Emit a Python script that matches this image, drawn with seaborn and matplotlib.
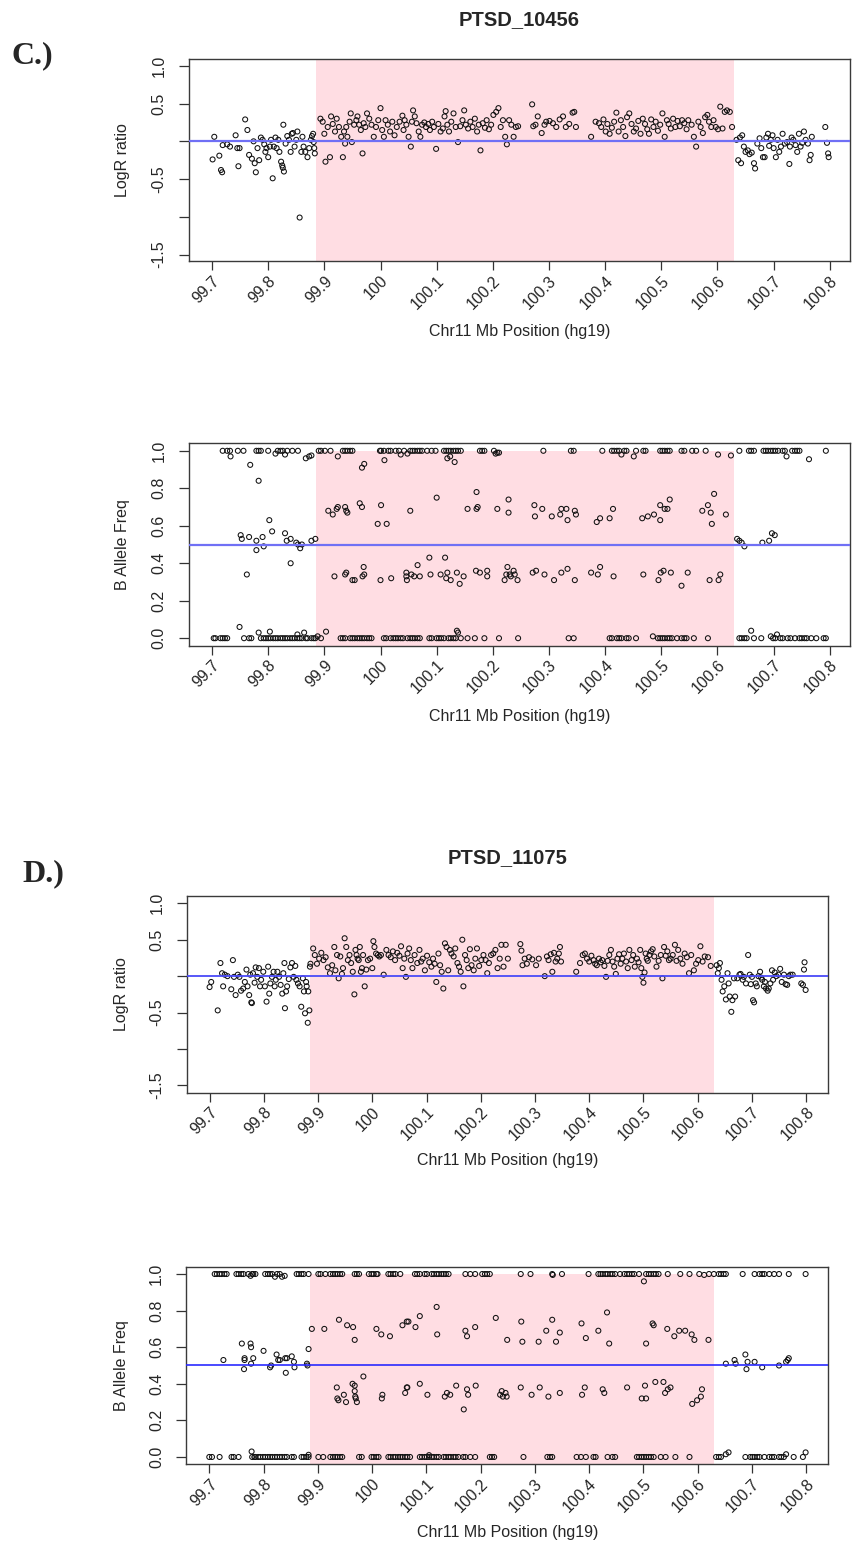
import numpy as np
import pandas as pd
import matplotlib
matplotlib.use("Agg")
import matplotlib.pyplot as plt
import matplotlib.transforms as mtransforms
from matplotlib.patches import Rectangle
import seaborn as sns

sns.set_theme(style="white")
plt.rcParams["font.family"] = ["Liberation Sans", "DejaVu Sans"]

# ------------------------------------------------------------------ data
titles = ["PTSD_10456", "PTSD_11075"]
panel_letters = ["C.)", "D.)"]
x_ticks = [99.7, 99.8, 99.9, 100.0, 100.1, 100.2, 100.3, 100.4, 100.5, 100.6, 100.7, 100.8]
x_tick_labels = ["99.7", "99.8", "99.9", "100", "100.1", "100.2", "100.3",
                 "100.4", "100.5", "100.6", "100.7", "100.8"]
logr_ticks = [-1.5, -1.0, -0.5, 0.0, 0.5, 1.0]
logr_tick_labels = ["-1.5", "", "-0.5", "", "0.5", "1.0"]
baf_ticks = [0.0, 0.2, 0.4, 0.6, 0.8, 1.0]
baf_tick_labels = ["0.0", "0.2", "0.4", "0.6", "0.8", "1.0"]
cnv_region = [99.886, 100.630]      # shaded duplication (Mb)
logr_ref = 0.0
baf_ref = 0.5

# ---- PTSD_10456 LogR (position Mb, LogR)
c_logr_points = [
    (99.701, -0.24), (99.704, 0.06), (99.713, -0.19), (99.716, -0.38), (99.718, -0.41), (99.719, -0.05),
    (99.727, -0.04), (99.732, -0.07), (99.742, 0.08), (99.745, -0.09), (99.749, -0.09), (99.747, -0.33),
    (99.759, 0.29), (99.763, 0.15), (99.766, -0.18), (99.771, -0.23), (99.774, 0.00), (99.776, -0.29),
    (99.778, -0.41), (99.781, -0.09), (99.784, -0.25), (99.787, 0.05), (99.790, 0.02), (99.793, -0.04),
    (99.795, -0.14), (99.797, -0.09), (99.800, -0.21), (99.803, -0.07), (99.805, 0.02), (99.808, -0.49),
    (99.810, -0.07), (99.813, 0.05), (99.815, -0.09), (99.818, 0.02), (99.820, -0.14), (99.823, -0.27),
    (99.825, -0.32), (99.826, -0.35), (99.828, -0.40), (99.827, 0.22), (99.831, -0.03), (99.834, 0.07),
    (99.837, 0.02), (99.840, -0.14), (99.842, 0.10), (99.844, 0.11), (99.847, -0.07), (99.850, 0.02),
    (99.852, 0.13), (99.856, -1.01), (99.859, -0.14), (99.861, 0.06), (99.863, -0.07), (99.866, -0.14),
    (99.870, -0.21), (99.873, -0.09), (99.876, 0.02), (99.878, 0.07), (99.880, 0.10), (99.881, -0.01),
    (99.882, -0.09), (99.883, -0.16),
    (99.893, 0.30), (99.897, 0.26), (99.900, 0.10), (99.902, -0.27), (99.906, 0.19), (99.910, -0.21),
    (99.912, 0.33), (99.915, 0.23), (99.919, 0.13), (99.922, 0.30), (99.926, 0.19), (99.930, 0.06),
    (99.933, -0.21), (99.935, 0.13), (99.937, -0.03), (99.939, 0.19), (99.941, 0.06), (99.945, 0.26),
    (99.947, 0.37), (99.949, -0.01), (99.953, 0.22), (99.957, 0.28), (99.959, 0.33), (99.962, 0.22),
    (99.965, 0.15), (99.968, -0.16), (99.970, 0.24), (99.973, 0.19), (99.976, 0.37), (99.980, 0.30),
    (99.984, 0.22), (99.988, 0.06), (99.992, 0.19), (99.996, 0.28), (100.000, 0.44), (100.003, 0.15),
    (100.006, 0.06), (100.009, 0.28), (100.013, 0.22), (100.017, 0.13), (100.021, 0.26), (100.025, 0.08),
    (100.029, 0.19), (100.034, 0.26), (100.039, 0.34), (100.041, 0.15), (100.043, 0.28), (100.046, 0.22),
    (100.050, 0.06), (100.054, -0.07), (100.056, 0.26), (100.058, 0.41), (100.061, 0.33), (100.064, 0.24),
    (100.068, 0.13), (100.071, 0.06), (100.074, 0.22), (100.078, 0.25), (100.081, 0.19), (100.085, 0.23),
    (100.088, 0.15), (100.092, 0.26), (100.095, 0.19), (100.099, -0.10), (100.103, 0.23), (100.107, 0.13),
    (100.111, 0.17), (100.114, 0.33), (100.116, 0.40), (100.119, 0.22), (100.122, 0.13), (100.126, 0.26),
    (100.130, 0.37), (100.134, 0.19), (100.138, -0.01), (100.142, 0.20), (100.146, 0.28), (100.149, 0.41),
    (100.152, 0.22), (100.156, 0.17), (100.160, 0.26), (100.164, 0.19), (100.168, 0.30), (100.172, 0.13),
    (100.175, 0.22), (100.178, -0.12), (100.182, 0.24), (100.186, 0.18), (100.189, 0.28), (100.193, 0.16),
    (100.197, 0.22), (100.201, 0.35), (100.206, 0.39), (100.210, 0.44), (100.214, 0.19), (100.218, 0.28),
    (100.222, 0.06), (100.225, -0.04), (100.229, 0.28), (100.233, 0.22), (100.237, 0.06), (100.241, 0.19),
    (100.245, 0.20), (100.270, 0.49), (100.272, 0.20), (100.276, 0.22), (100.280, 0.33), (100.287, 0.11),
    (100.292, 0.22), (100.295, 0.26), (100.301, 0.27), (100.307, 0.24), (100.313, 0.19), (100.319, 0.29),
    (100.325, 0.33), (100.330, 0.19), (100.336, 0.23), (100.342, 0.38), (100.345, 0.39), (100.348, 0.19),
    (100.375, 0.06), (100.383, 0.26), (100.389, 0.24), (100.393, 0.19), (100.397, 0.29), (100.401, 0.13),
    (100.404, 0.23), (100.408, 0.10), (100.412, 0.18), (100.416, 0.26), (100.420, 0.38), (100.424, 0.13),
    (100.428, 0.28), (100.432, 0.19), (100.436, 0.07), (100.439, 0.32), (100.443, 0.37), (100.447, 0.23),
    (100.451, 0.13), (100.455, 0.17), (100.459, 0.27), (100.463, 0.10), (100.467, 0.30), (100.471, 0.23),
    (100.475, 0.16), (100.478, 0.10), (100.482, 0.29), (100.486, 0.19), (100.490, 0.26), (100.494, 0.14),
    (100.498, 0.22), (100.502, 0.37), (100.506, 0.06), (100.510, 0.28), (100.513, 0.23), (100.517, 0.17),
    (100.521, 0.30), (100.525, 0.19), (100.529, 0.27), (100.533, 0.20), (100.537, 0.28), (100.541, 0.24),
    (100.545, 0.16), (100.548, 0.28), (100.554, 0.22), (100.558, 0.06), (100.562, -0.07), (100.566, 0.26),
    (100.570, 0.19), (100.574, 0.11), (100.578, 0.32), (100.582, 0.35), (100.585, 0.26), (100.589, 0.19),
    (100.593, 0.28), (100.597, 0.19), (100.601, 0.16), (100.605, 0.46), (100.609, 0.17), (100.613, 0.39),
    (100.617, 0.41), (100.622, 0.39), (100.626, 0.19),
    (100.634, 0.02), (100.637, -0.25), (100.640, 0.05), (100.642, -0.29), (100.644, 0.08), (100.647, -0.07),
    (100.650, -0.14), (100.654, -0.12), (100.657, -0.17), (100.661, -0.15), (100.665, -0.29), (100.667, -0.36),
    (100.671, -0.03), (100.675, 0.04), (100.678, -0.09), (100.681, -0.21), (100.684, -0.21), (100.687, 0.05),
    (100.690, 0.10), (100.692, -0.06), (100.695, 0.02), (100.698, 0.08), (100.700, -0.09), (100.704, -0.21),
    (100.707, 0.02), (100.710, -0.14), (100.713, -0.07), (100.716, 0.10), (100.720, -0.03), (100.724, -0.01),
    (100.728, -0.30), (100.729, -0.07), (100.732, 0.05), (100.735, 0.02), (100.739, -0.05), (100.742, -0.14),
    (100.745, 0.10), (100.748, -0.07), (100.751, -0.02), (100.754, 0.13), (100.757, 0.02), (100.761, -0.03),
    (100.764, -0.25), (100.766, -0.18), (100.768, 0.06), (100.792, 0.19), (100.795, -0.02), (100.797, -0.16),
    (100.798, -0.21),
]

# ---- PTSD_10456 B allele frequency
c_baf_at_one = [  # positions with BAF = 1.0
    99.719, 99.727, 99.732, 99.746, 99.756, 99.779, 99.783, 99.787, 99.800, 99.817, 99.822, 99.826,
    99.834, 99.843, 99.853, 99.890, 99.894, 99.901, 99.911, 99.933, 99.937, 99.941, 99.946, 99.950,
    99.999, 100.001, 100.006, 100.014, 100.018, 100.027, 100.033, 100.042, 100.053, 100.057, 100.061,
    100.066, 100.070, 100.074, 100.083, 100.091, 100.098, 100.113, 100.117, 100.121, 100.125, 100.130,
    100.134, 100.138, 100.143, 100.177, 100.181, 100.185, 100.202, 100.290, 100.339, 100.344, 100.395,
    100.412, 100.416, 100.421, 100.425, 100.434, 100.438, 100.455, 100.468, 100.472, 100.498, 100.502,
    100.506, 100.511, 100.515, 100.536, 100.541, 100.555, 100.562, 100.579, 100.639, 100.656, 100.660,
    100.665, 100.682, 100.686, 100.690, 100.695, 100.699, 100.703, 100.708, 100.716, 100.720, 100.733,
    100.738, 100.742, 100.746, 100.793,
]
c_baf_at_zero = [  # positions with BAF = 0.0
    99.703, 99.706, 99.715, 99.719, 99.723, 99.727, 99.757, 99.766, 99.770, 99.787, 99.792, 99.796,
    99.800, 99.804, 99.809, 99.813, 99.817, 99.822, 99.826, 99.830, 99.834, 99.839, 99.843, 99.847,
    99.852, 99.856, 99.860, 99.867, 99.870, 99.877, 99.881, 99.884, 99.894, 99.929, 99.933, 99.937,
    99.946, 99.950, 99.954, 99.959, 99.963, 99.967, 99.971, 99.976, 99.980, 99.984, 100.006, 100.010,
    100.018, 100.023, 100.027, 100.031, 100.036, 100.040, 100.048, 100.053, 100.057, 100.061, 100.066,
    100.070, 100.087, 100.091, 100.100, 100.104, 100.108, 100.113, 100.121, 100.125, 100.130, 100.134,
    100.143, 100.155, 100.168, 100.185, 100.211, 100.245, 100.335, 100.344, 100.408, 100.412, 100.421,
    100.425, 100.429, 100.438, 100.442, 100.455, 100.494, 100.498, 100.502, 100.506, 100.511, 100.515,
    100.519, 100.528, 100.536, 100.541, 100.545, 100.558, 100.583, 100.639, 100.643, 100.648, 100.652,
    100.665, 100.678, 100.699, 100.703, 100.712, 100.716, 100.725, 100.730, 100.738, 100.746, 100.750,
    100.755, 100.759, 100.767, 100.776, 100.789, 100.793,
]
c_baf_points = [  # remaining (position, BAF)
    (99.733, 0.97), (99.768, 0.925), (99.783, 0.84), (99.813, 0.985), (99.830, 0.98), (99.867, 0.96),
    (99.873, 0.97), (99.877, 0.975), (99.924, 0.97), (99.967, 0.91), (99.971, 0.93), (100.007, 0.95),
    (100.036, 0.98), (100.048, 0.985), (100.119, 0.96), (100.124, 0.97), (100.132, 0.94), (100.205, 0.985),
    (100.208, 0.99), (100.211, 0.99), (100.429, 0.98), (100.451, 0.97), (100.601, 0.98), (100.624, 0.975),
    (100.723, 0.97), (100.763, 0.955),
    (99.749, 0.06), (99.783, 0.03), (99.803, 0.035), (99.852, 0.02), (99.864, 0.03), (99.888, 0.01),
    (99.903, 0.035), (100.136, 0.04), (100.138, 0.03), (100.485, 0.01), (100.660, 0.04), (100.706, 0.02),
    (100.695, 0.01),
    (99.751, 0.55), (99.753, 0.53), (99.762, 0.34), (99.766, 0.54), (99.779, 0.52), (99.779, 0.47),
    (99.790, 0.54), (99.792, 0.49), (99.802, 0.63), (99.807, 0.57), (99.830, 0.56), (99.833, 0.52),
    (99.840, 0.53), (99.840, 0.40), (99.850, 0.51), (99.853, 0.50), (99.857, 0.48), (99.860, 0.50),
    (99.877, 0.52), (99.884, 0.53),
    (99.907, 0.68), (99.915, 0.66), (99.922, 0.69), (99.924, 0.70), (99.937, 0.70), (99.939, 0.68),
    (99.941, 0.67), (99.963, 0.72), (99.967, 0.70), (99.995, 0.61), (100.001, 0.71), (100.011, 0.61),
    (100.053, 0.68), (100.100, 0.75), (100.171, 0.78), (100.171, 0.69), (100.173, 0.70), (100.155, 0.69),
    (100.208, 0.69), (100.228, 0.74), (100.228, 0.67), (100.274, 0.71), (100.275, 0.65), (100.288, 0.69),
    (100.305, 0.65), (100.320, 0.66), (100.322, 0.69), (100.331, 0.69), (100.333, 0.63), (100.346, 0.68),
    (100.348, 0.66), (100.385, 0.62), (100.391, 0.64), (100.408, 0.64), (100.414, 0.69), (100.466, 0.64),
    (100.476, 0.65), (100.487, 0.66), (100.498, 0.63), (100.498, 0.71), (100.506, 0.69), (100.511, 0.69),
    (100.515, 0.74), (100.573, 0.68), (100.583, 0.71), (100.588, 0.67), (100.590, 0.61), (100.594, 0.77),
    (100.615, 0.66),
    (99.918, 0.33), (99.937, 0.34), (99.939, 0.35), (99.950, 0.31), (99.954, 0.31), (99.968, 0.33),
    (99.970, 0.38), (99.971, 0.34), (100.000, 0.31), (100.019, 0.32), (100.046, 0.35), (100.046, 0.33),
    (100.047, 0.31), (100.055, 0.34), (100.060, 0.33), (100.066, 0.39), (100.070, 0.33), (100.087, 0.43),
    (100.089, 0.34), (100.107, 0.34), (100.115, 0.43), (100.117, 0.32), (100.119, 0.35), (100.125, 0.31),
    (100.136, 0.35), (100.141, 0.29), (100.148, 0.33), (100.170, 0.36), (100.177, 0.35), (100.190, 0.36),
    (100.190, 0.33), (100.221, 0.31), (100.224, 0.34), (100.226, 0.38), (100.230, 0.34), (100.232, 0.33),
    (100.237, 0.36), (100.239, 0.34), (100.244, 0.31), (100.271, 0.35), (100.277, 0.36), (100.292, 0.34),
    (100.309, 0.31), (100.322, 0.35), (100.333, 0.37), (100.346, 0.31), (100.375, 0.35), (100.387, 0.34),
    (100.391, 0.38), (100.415, 0.33), (100.468, 0.34), (100.495, 0.31), (100.499, 0.35), (100.504, 0.36),
    (100.517, 0.35), (100.536, 0.28), (100.547, 0.35), (100.586, 0.31), (100.602, 0.31), (100.605, 0.34),
    (100.635, 0.53), (100.639, 0.52), (100.643, 0.51), (100.648, 0.49), (100.680, 0.51), (100.692, 0.52),
    (100.697, 0.56), (100.702, 0.55),
]

# ---- PTSD_11075 LogR (position Mb, LogR)
d_logr_points = [
    (99.700, -0.15), (99.703, -0.08), (99.715, -0.47), (99.720, 0.18), (99.723, 0.04), (99.725, -0.14),
    (99.728, 0.02), (99.733, 0.00), (99.740, -0.18), (99.743, 0.22), (99.745, -0.01), (99.748, -0.26),
    (99.752, 0.02), (99.755, -0.01), (99.758, -0.20), (99.762, -0.17), (99.765, -0.08), (99.768, 0.09),
    (99.770, -0.14), (99.773, -0.26), (99.775, 0.02), (99.777, -0.36), (99.778, -0.37), (99.780, 0.04),
    (99.783, -0.09), (99.785, 0.12), (99.788, -0.01), (99.791, 0.11), (99.793, -0.14), (99.795, -0.05),
    (99.799, 0.06), (99.802, -0.14), (99.805, -0.35), (99.808, 0.13), (99.810, -0.24), (99.812, -0.10),
    (99.815, -0.01), (99.818, 0.06), (99.820, -0.14), (99.822, -0.05), (99.825, 0.06), (99.828, -0.01),
    (99.831, -0.12), (99.834, -0.24), (99.836, 0.04), (99.838, 0.18), (99.839, -0.44), (99.841, -0.21),
    (99.843, -0.14), (99.846, -0.04), (99.849, 0.12), (99.852, 0.18), (99.855, -0.01), (99.858, 0.14),
    (99.860, -0.05), (99.863, -0.10), (99.866, -0.14), (99.869, -0.42), (99.872, -0.03), (99.874, -0.21),
    (99.876, -0.51), (99.878, -0.08), (99.879, -0.14), (99.881, -0.64), (99.882, -0.21), (99.884, -0.47),
    (99.885, 0.13), (99.886, 0.17),
    (99.891, 0.38), (99.894, 0.29), (99.898, 0.17), (99.902, 0.24), (99.906, 0.32), (99.910, 0.22),
    (99.914, 0.26), (99.918, 0.12), (99.922, 0.04), (99.926, 0.15), (99.930, 0.40), (99.932, 0.08),
    (99.935, 0.29), (99.938, -0.03), (99.941, 0.27), (99.944, 0.03), (99.946, 0.11), (99.949, 0.52),
    (99.952, 0.40), (99.955, 0.22), (99.958, 0.29), (99.961, 0.18), (99.964, 0.06), (99.967, -0.25),
    (99.969, 0.36), (99.971, 0.29), (99.973, 0.24), (99.975, 0.22), (99.977, 0.40), (99.979, 0.06),
    (99.981, 0.11), (99.983, 0.29), (99.986, -0.14), (99.989, 0.09), (99.992, 0.22), (99.996, 0.24),
    (100.000, 0.11), (100.002, 0.48), (100.004, 0.40), (100.007, 0.31), (100.010, 0.29), (100.013, 0.27),
    (100.016, 0.29), (100.021, 0.02), (100.026, 0.36), (100.030, 0.29), (100.034, 0.26), (100.038, 0.34),
    (100.042, 0.22), (100.046, 0.32), (100.050, 0.28), (100.053, 0.41), (100.056, 0.11), (100.059, 0.24),
    (100.062, -0.01), (100.065, 0.31), (100.068, 0.38), (100.071, 0.22), (100.074, 0.11), (100.078, 0.29),
    (100.083, 0.18), (100.087, 0.36), (100.090, 0.20), (100.093, 0.24), (100.097, 0.08), (100.101, 0.28),
    (100.105, 0.19), (100.109, 0.13), (100.112, 0.24), (100.115, 0.17), (100.118, -0.08), (100.122, 0.31),
    (100.125, 0.15), (100.128, 0.06), (100.131, -0.17), (100.134, 0.45), (100.137, 0.40), (100.140, 0.08),
    (100.143, 0.36), (100.146, 0.31), (100.150, 0.27), (100.153, 0.38), (100.157, 0.18), (100.160, 0.13),
    (100.163, 0.06), (100.166, 0.50), (100.168, -0.14), (100.171, 0.29), (100.174, 0.22), (100.177, 0.11),
    (100.180, 0.37), (100.183, 0.15), (100.187, 0.08), (100.190, 0.24), (100.193, 0.38), (100.197, 0.14),
    (100.201, 0.22), (100.205, 0.29), (100.209, 0.22), (100.212, 0.04), (100.215, 0.18), (100.219, 0.29),
    (100.223, 0.31), (100.227, 0.36), (100.231, 0.11), (100.235, 0.24), (100.238, 0.43), (100.242, 0.13),
    (100.246, 0.43), (100.250, 0.24), (100.273, 0.44), (100.275, 0.35), (100.277, 0.15), (100.281, 0.24),
    (100.285, 0.17), (100.289, 0.26), (100.295, 0.23), (100.302, 0.15), (100.307, 0.24), (100.318, 0.00),
    (100.322, 0.27), (100.325, 0.22), (100.329, 0.30), (100.332, 0.06), (100.335, 0.32), (100.338, 0.20),
    (100.341, 0.24), (100.344, 0.31), (100.346, 0.40), (100.348, 0.20), (100.376, 0.06), (100.383, 0.18),
    (100.388, 0.29), (100.392, 0.31), (100.396, 0.24), (100.400, 0.20), (100.404, 0.28), (100.408, 0.22),
    (100.411, 0.17), (100.414, 0.15), (100.418, 0.24), (100.421, 0.19), (100.424, 0.22), (100.428, 0.14),
    (100.431, -0.01), (100.434, 0.21), (100.437, 0.29), (100.440, 0.36), (100.443, 0.20), (100.446, 0.13),
    (100.449, 0.03), (100.452, 0.24), (100.455, 0.30), (100.458, 0.17), (100.461, 0.24), (100.464, 0.31),
    (100.468, 0.20), (100.471, 0.11), (100.474, 0.36), (100.478, 0.22), (100.481, 0.29), (100.484, 0.13),
    (100.488, 0.24), (100.491, 0.19), (100.494, 0.36), (100.496, 0.11), (100.498, -0.01), (100.500, -0.09),
    (100.502, 0.05), (100.504, 0.31), (100.506, 0.24), (100.508, 0.21), (100.511, 0.29), (100.514, 0.34),
    (100.517, 0.37), (100.520, 0.27), (100.524, 0.13), (100.528, 0.21), (100.532, 0.29), (100.535, -0.03),
    (100.538, 0.40), (100.541, 0.28), (100.544, 0.34), (100.547, 0.22), (100.550, 0.24), (100.554, 0.29),
    (100.558, 0.43), (100.561, 0.21), (100.564, 0.36), (100.568, 0.24), (100.572, 0.17), (100.576, 0.31),
    (100.580, 0.26), (100.584, 0.04), (100.588, 0.29), (100.593, 0.08), (100.597, 0.17), (100.601, 0.22),
    (100.605, 0.41), (100.609, 0.20), (100.613, 0.27), (100.619, 0.26), (100.624, 0.14),
    (100.635, 0.15), (100.637, 0.04), (100.639, 0.11), (100.641, 0.18), (100.644, -0.05), (100.646, -0.21),
    (100.649, -0.14), (100.652, -0.32), (100.655, 0.04), (100.657, -0.10), (100.659, -0.28), (100.662, -0.49),
    (100.664, -0.33), (100.667, -0.03), (100.669, -0.28), (100.673, -0.03), (100.677, 0.02), (100.679, 0.03),
    (100.683, -0.05), (100.685, -0.01), (100.689, -0.10), (100.693, 0.29), (100.696, 0.02), (100.698, -0.11),
    (100.700, -0.01), (100.702, -0.33), (100.704, -0.36), (100.707, -0.10), (100.709, -0.14), (100.712, 0.00),
    (100.715, 0.06), (100.717, -0.02), (100.719, -0.05), (100.722, -0.14), (100.724, -0.08), (100.726, -0.17),
    (100.729, -0.20), (100.731, -0.17), (100.734, -0.10), (100.737, 0.08), (100.739, -0.05), (100.742, 0.05),
    (100.745, 0.00), (100.749, 0.02), (100.752, 0.10), (100.755, -0.08), (100.759, 0.02), (100.762, -0.11),
    (100.765, -0.12), (100.768, 0.00), (100.771, 0.02), (100.775, 0.02), (100.791, -0.10), (100.794, -0.12),
    (100.796, 0.09), (100.797, 0.19), (100.799, -0.19),
]

# ---- PTSD_11075 B allele frequency
d_baf_at_one = [
    99.710, 99.714, 99.719, 99.723, 99.728, 99.732, 99.750, 99.754, 99.759, 99.763, 99.772, 99.779,
    99.781, 99.785, 99.803, 99.808, 99.812, 99.816, 99.825, 99.830, 99.861, 99.865, 99.870, 99.874,
    99.883, 99.901, 99.905, 99.914, 99.923, 99.928, 99.932, 99.936, 99.941, 99.945, 99.968, 99.972,
    99.976, 99.994, 99.999, 100.003, 100.008, 100.010, 100.030, 100.034, 100.039, 100.043, 100.052,
    100.079, 100.083, 100.088, 100.097, 100.101, 100.110, 100.114, 100.119, 100.123, 100.128, 100.132,
    100.136, 100.141, 100.172, 100.181, 100.190, 100.203, 100.208, 100.212, 100.217, 100.274, 100.292,
    100.332, 100.350, 100.399, 100.417, 100.421, 100.425, 100.430, 100.434, 100.439, 100.443, 100.448,
    100.457, 100.465, 100.470, 100.474, 100.479, 100.483, 100.492, 100.505, 100.510, 100.514, 100.519,
    100.523, 100.528, 100.545, 100.568, 100.585, 100.603, 100.621, 100.630, 100.639, 100.643, 100.648,
    100.652, 100.683, 100.705, 100.714, 100.719, 100.723, 100.732, 100.741, 100.750, 100.768, 100.799,
]
d_baf_at_zero = [
    99.700, 99.705, 99.719, 99.741, 99.745, 99.754, 99.779, 99.783, 99.785, 99.790, 99.794, 99.799,
    99.803, 99.808, 99.812, 99.816, 99.821, 99.825, 99.830, 99.834, 99.839, 99.843, 99.852, 99.856,
    99.870, 99.874, 99.879, 99.883, 99.901, 99.910, 99.923, 99.928, 99.932, 99.936, 99.941, 99.945,
    99.976, 99.981, 99.999, 100.003, 100.008, 100.012, 100.030, 100.034, 100.039, 100.043, 100.048,
    100.052, 100.056, 100.061, 100.065, 100.070, 100.088, 100.092, 100.097, 100.101, 100.105, 100.110,
    100.114, 100.119, 100.123, 100.132, 100.136, 100.141, 100.145, 100.150, 100.154, 100.159, 100.168,
    100.172, 100.181, 100.190, 100.217, 100.221, 100.225, 100.279, 100.323, 100.328, 100.332, 100.377,
    100.385, 100.394, 100.408, 100.412, 100.434, 100.443, 100.448, 100.488, 100.492, 100.497, 100.501,
    100.505, 100.510, 100.514, 100.519, 100.532, 100.541, 100.559, 100.585, 100.634, 100.639, 100.643,
    100.688, 100.697, 100.701, 100.705, 100.710, 100.714, 100.723, 100.732, 100.737, 100.741, 100.750,
    100.754, 100.759, 100.777, 100.794,
]
d_baf_points = [
    (99.776, 0.99), (99.821, 0.985), (99.834, 0.985), (99.839, 0.99), (100.333, 0.995), (100.501, 0.96),
    (100.612, 0.995),
    (99.778, 0.03), (100.652, 0.015), (100.657, 0.025), (100.799, 0.025), (100.763, 0.015), (99.883, 0.012),
    (100.105, 0.01),
    (99.726, 0.53), (99.760, 0.62), (99.765, 0.53), (99.765, 0.54), (99.764, 0.48), (99.776, 0.62),
    (99.777, 0.60), (99.777, 0.51), (99.781, 0.54), (99.800, 0.58), (99.812, 0.49), (99.814, 0.50),
    (99.824, 0.56), (99.827, 0.53), (99.830, 0.53), (99.840, 0.54), (99.841, 0.46), (99.843, 0.54),
    (99.852, 0.55), (99.856, 0.52), (99.857, 0.49), (99.880, 0.51), (99.881, 0.50), (99.883, 0.59),
    (99.889, 0.70), (99.912, 0.70), (99.939, 0.75), (99.954, 0.72), (99.965, 0.71), (99.968, 0.64),
    (100.008, 0.70), (100.017, 0.67), (100.033, 0.66), (100.056, 0.72), (100.064, 0.74), (100.067, 0.74),
    (100.080, 0.71), (100.088, 0.77), (100.119, 0.82), (100.120, 0.67), (100.172, 0.69), (100.175, 0.66),
    (100.190, 0.71), (100.228, 0.76), (100.249, 0.64), (100.275, 0.74), (100.277, 0.63), (100.307, 0.63),
    (100.321, 0.69), (100.332, 0.75), (100.339, 0.63), (100.346, 0.68), (100.386, 0.73), (100.394, 0.65),
    (100.417, 0.69), (100.433, 0.79), (100.437, 0.62), (100.505, 0.62), (100.517, 0.73), (100.519, 0.72),
    (100.544, 0.70), (100.557, 0.66), (100.566, 0.69), (100.577, 0.69), (100.589, 0.67), (100.594, 0.64),
    (100.620, 0.64),
    (99.935, 0.38), (99.936, 0.32), (99.938, 0.31), (99.948, 0.34), (99.952, 0.30), (99.964, 0.40),
    (99.968, 0.39), (99.968, 0.36), (99.969, 0.33), (99.970, 0.32), (99.972, 0.30), (99.984, 0.44),
    (100.018, 0.32), (100.019, 0.34), (100.061, 0.35), (100.064, 0.38), (100.065, 0.38), (100.088, 0.40),
    (100.102, 0.34), (100.134, 0.33), (100.138, 0.35), (100.144, 0.34), (100.155, 0.39), (100.169, 0.26),
    (100.175, 0.37), (100.177, 0.34), (100.191, 0.39), (100.236, 0.34), (100.239, 0.36), (100.241, 0.33),
    (100.246, 0.35), (100.248, 0.33), (100.274, 0.38), (100.294, 0.34), (100.309, 0.38), (100.325, 0.33),
    (100.346, 0.35), (100.387, 0.34), (100.392, 0.38), (100.425, 0.37), (100.428, 0.35), (100.470, 0.38),
    (100.497, 0.32), (100.503, 0.39), (100.505, 0.32), (100.522, 0.41), (100.537, 0.41), (100.540, 0.35),
    (100.545, 0.37), (100.550, 0.38), (100.590, 0.29), (100.599, 0.31), (100.606, 0.33), (100.608, 0.37),
    (100.652, 0.51), (100.668, 0.53), (100.670, 0.51), (100.688, 0.56), (100.690, 0.48), (100.692, 0.52),
    (100.705, 0.52), (100.719, 0.49), (100.750, 0.50), (100.763, 0.52), (100.766, 0.53), (100.768, 0.54),
]

# ------------------------------------------------------------------ helpers
W, H = 853, 1544
PINK = "#ffdde3"
fig = plt.figure(figsize=(W / 100, H / 100), dpi=100)


def frame(l, r, t, b):
    return fig.add_axes([l / W, 1 - b / H, (r - l) / W, (b - t) / H])


def points_frame(pairs, one_x=None, zero_x=None):
    xs = [p[0] for p in pairs]
    ys = [p[1] for p in pairs]
    if one_x:
        xs += list(one_x)
        ys += [1.0] * len(one_x)
    if zero_x:
        xs += list(zero_x)
        ys += [0.0] * len(zero_x)
    return pd.DataFrame({"pos": xs, "val": ys})


def draw(ax, df, xlim, ylim, pink_y, ref, ref_color, ref_lw, yticks, ylabels, ylabel, xlab_y):
    ax.add_patch(Rectangle((cnv_region[0], pink_y[0]), cnv_region[1] - cnv_region[0],
                           pink_y[1] - pink_y[0], facecolor=PINK, edgecolor="none", zorder=0))
    sns.scatterplot(data=df, x="pos", y="val", ax=ax, marker="o", s=13,
                    facecolor="none", edgecolor="#111111", linewidth=0.75, zorder=2, legend=False)
    ax.axhline(ref, color=ref_color, lw=ref_lw, zorder=3)
    ax.set_xlim(*xlim)
    ax.set_ylim(*ylim)
    ax.set_xticks(x_ticks)
    ax.set_xticklabels(x_tick_labels, rotation=45, ha="right", va="top",
                       rotation_mode="anchor", fontsize=11.5)
    off = mtransforms.ScaledTranslation(6 / 100, 0, fig.dpi_scale_trans)
    for lab in ax.get_xticklabels():
        lab.set_transform(lab.get_transform() + off)
    ax.set_yticks(yticks)
    ax.set_yticklabels(ylabels, rotation=90, va="center", ha="right", fontsize=11.5)
    ax.tick_params(axis="x", bottom=True, length=6.5, width=0.9, color="#333333", pad=2)
    ax.tick_params(axis="y", left=True, length=7.2, width=0.9, color="#333333", pad=9)
    for sp in ax.spines.values():
        sp.set_color("#3a3a3a")
        sp.set_linewidth(1.0)
    ax.set_xlabel("Chr11 Mb Position (hg19)", fontsize=11.5)
    ax.set_ylabel(ylabel, fontsize=11.5)
    ax.xaxis.set_label_coords(0.5, xlab_y)
    ax.yaxis.set_label_coords(-0.09, 0.5)


# ------------------------------------------------------------------ panels
ax1 = frame(189, 850, 58.7, 261.3)
draw(ax1, points_frame(c_logr_points), (99.659, 100.836), (-1.59, 1.095), (-3, 3),
     logr_ref, "#6f6ff5", 1.6, logr_ticks, logr_tick_labels, "LogR ratio", -0.308)

ax2 = frame(189, 850, 443.3, 645.7)
draw(ax2, points_frame(c_baf_points, c_baf_at_one, c_baf_at_zero), (99.659, 100.836), (-0.04, 1.04),
     (-0.2, 1.0), baf_ref, "#7070f5", 1.6, baf_ticks, baf_tick_labels, "B Allele Freq", -0.311)

ax3 = frame(186.8, 828.4, 896, 1092.7)
draw(ax3, points_frame(d_logr_points), (99.658, 100.841), (-1.6, 1.1), (-3, 3),
     logr_ref, "#4a4af8", 1.3, logr_ticks, logr_tick_labels, "LogR ratio", -0.305)

ax4 = frame(186.5, 828.4, 1266.7, 1464.3)
draw(ax4, points_frame(d_baf_points, d_baf_at_one, d_baf_at_zero), (99.658, 100.841), (-0.04, 1.04),
     (-0.2, 1.0), baf_ref, "#2a2aff", 1.2, baf_ticks, baf_tick_labels, "B Allele Freq", -0.308)

fig.text(519 / W, 1 - 20 / H, titles[0], ha="center", va="center", fontsize=14.5, fontweight="bold")
fig.text(507.6 / W, 1 - 858 / H, titles[1], ha="center", va="center", fontsize=14.5, fontweight="bold")
fig.text(12 / W, 1 - 56 / H, panel_letters[0], ha="left", va="center", fontsize=23,
         fontweight="bold", family=["Liberation Serif", "DejaVu Serif"])
fig.text(22 / W, 1 - 874 / H, panel_letters[1], ha="left", va="center", fontsize=23,
         fontweight="bold", family=["Liberation Serif", "DejaVu Serif"])

fig.savefig("out.png", dpi=100)
